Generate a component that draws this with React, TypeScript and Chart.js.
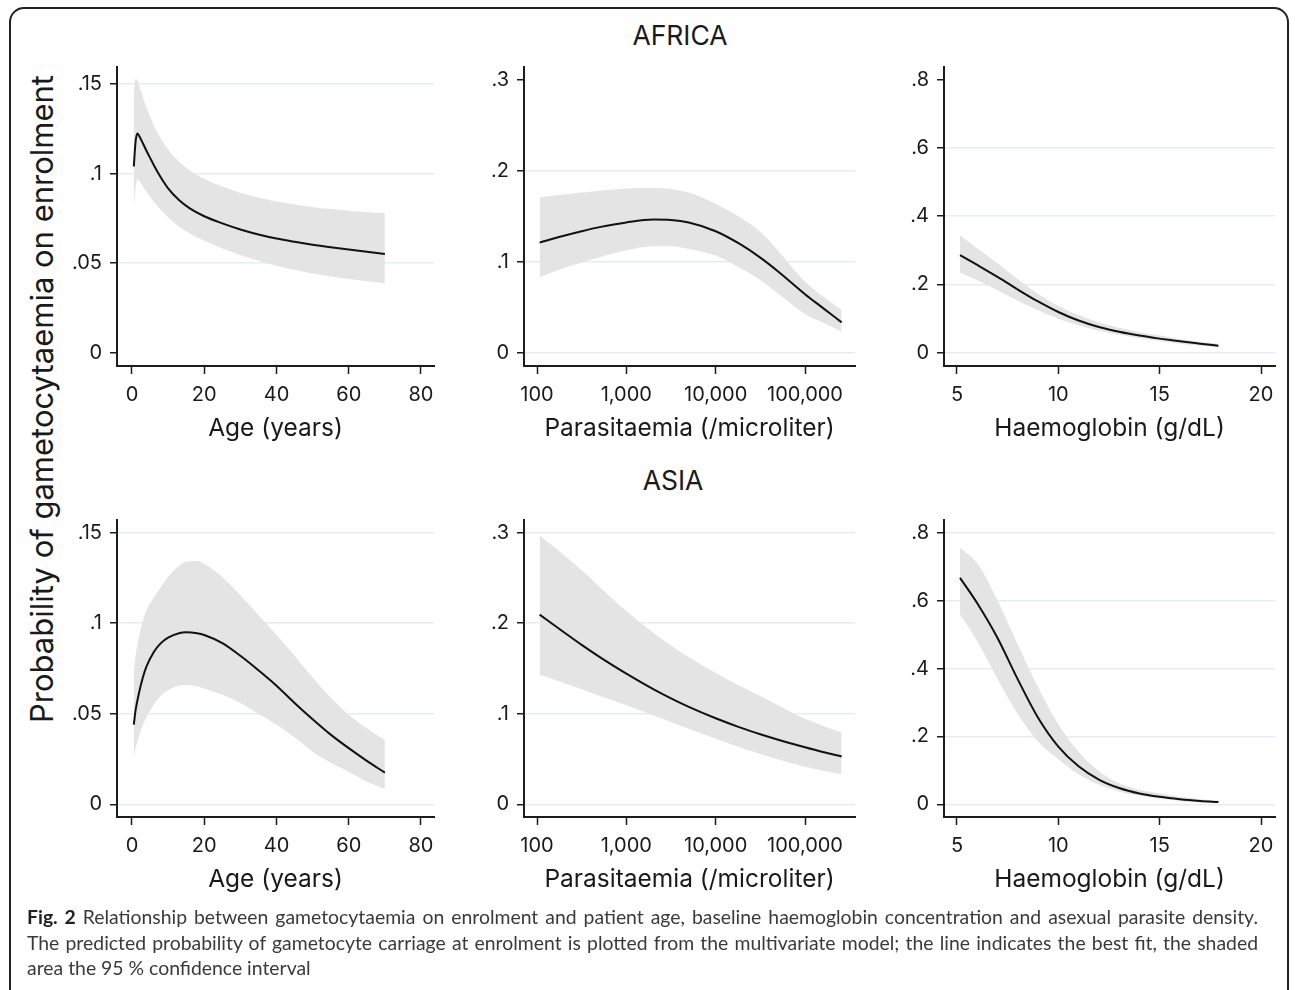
import React, { useEffect, useRef } from 'react';
import { Chart, registerables } from 'chart.js';

Chart.register(...registerables);

// ---------- data ----------
const ageTicks = [0, 20, 40, 60, 80];
const parTicks = [100, 1000, 10000, 100000];
const hbTicks = [5, 10, 15, 20];
const yTicksAge = [0, 0.05, 0.1, 0.15];
const yTicksPar = [0, 0.1, 0.2, 0.3];
const yTicksHb = [0, 0.2, 0.4, 0.6, 0.8];

// Africa – age
const afAgeX = [0.5, 1, 1.5, 2, 3, 4, 5, 7, 10, 13, 16, 20, 25, 30, 35, 40, 45, 50, 55, 60, 65, 70];
const afAgeFit = [0.104, 0.118, 0.1225, 0.121, 0.117, 0.1128, 0.1088, 0.1012, 0.0918, 0.0853, 0.0806, 0.0762, 0.0722, 0.0688, 0.066, 0.0637, 0.0619, 0.0603, 0.0589, 0.0576, 0.0563, 0.0551];
const afAgeLo = [0.081, 0.092, 0.097, 0.096, 0.093, 0.09, 0.087, 0.082, 0.0755, 0.0705, 0.0665, 0.0625, 0.0582, 0.0546, 0.0513, 0.0485, 0.0462, 0.0442, 0.0425, 0.0411, 0.0399, 0.0388];
const afAgeHi = [0.146, 0.153, 0.152, 0.149, 0.143, 0.137, 0.132, 0.123, 0.1135, 0.1068, 0.1018, 0.0972, 0.0928, 0.0893, 0.0866, 0.0845, 0.0828, 0.0814, 0.0802, 0.0793, 0.0785, 0.0778];

// Africa – parasitaemia
const afParX = [107, 200, 316, 500, 1000, 2000, 3160, 5000, 10000, 18600, 31600, 50000, 100000, 158000, 257000];
const afParFit = [0.121, 0.1285, 0.1335, 0.138, 0.1432, 0.1463, 0.1458, 0.143, 0.1335, 0.1195, 0.1045, 0.0893, 0.0643, 0.0492, 0.0333];
const afParLo = [0.083, 0.093, 0.099, 0.105, 0.1125, 0.117, 0.117, 0.114, 0.1067, 0.093, 0.08, 0.065, 0.0425, 0.033, 0.023];
const afParHi = [0.171, 0.174, 0.176, 0.178, 0.1805, 0.181, 0.18, 0.176, 0.1635, 0.149, 0.133, 0.112, 0.078, 0.062, 0.047];

// Africa – haemoglobin
const afHbX = [5.15, 6, 7, 8, 9, 10, 11, 12, 13, 14, 15, 16, 17, 17.9];
const afHbFit = [0.286, 0.257, 0.222, 0.185, 0.15, 0.119, 0.094, 0.075, 0.061, 0.05, 0.041, 0.033, 0.026, 0.02];
const afHbLo = [0.235, 0.212, 0.183, 0.152, 0.124, 0.099, 0.08, 0.064, 0.052, 0.042, 0.034, 0.026, 0.02, 0.015];
const afHbHi = [0.344, 0.305, 0.262, 0.215, 0.172, 0.137, 0.11, 0.089, 0.073, 0.06, 0.05, 0.04, 0.032, 0.026];

// Asia – age
const asAgeX = [0.5, 1, 2, 3, 4, 6, 8, 10, 13, 15, 18, 20, 25, 30, 35, 40, 45, 50, 55, 60, 65, 70];
const asAgeFit = [0.044, 0.052, 0.062, 0.07, 0.076, 0.084, 0.089, 0.092, 0.0945, 0.095, 0.0945, 0.0935, 0.089, 0.082, 0.074, 0.0655, 0.056, 0.047, 0.0385, 0.031, 0.024, 0.0175];
const asAgeLo = [0.026, 0.031, 0.038, 0.044, 0.048, 0.055, 0.06, 0.063, 0.0655, 0.066, 0.065, 0.064, 0.0605, 0.056, 0.05, 0.044, 0.037, 0.029, 0.023, 0.018, 0.0125, 0.0085];
const asAgeHi = [0.073, 0.082, 0.093, 0.101, 0.107, 0.114, 0.12, 0.1255, 0.1318, 0.134, 0.1343, 0.1328, 0.1255, 0.1155, 0.1045, 0.0935, 0.082, 0.07, 0.059, 0.0495, 0.042, 0.0355];

// Asia – parasitaemia
const asParX = [107, 200, 316, 500, 1000, 2000, 3160, 5000, 10000, 18600, 31600, 50000, 100000, 158000, 257000];
const asParFit = [0.2095, 0.1901, 0.1761, 0.1629, 0.1443, 0.1272, 0.117, 0.1076, 0.095, 0.085, 0.0774, 0.0714, 0.063, 0.0578, 0.0528];
const asParLo = [0.143, 0.134, 0.127, 0.12, 0.1095, 0.0985, 0.091, 0.0835, 0.0725, 0.063, 0.0555, 0.0495, 0.0415, 0.037, 0.033];
const asParHi = [0.297, 0.2754, 0.2584, 0.2404, 0.2134, 0.1894, 0.1754, 0.1624, 0.145, 0.131, 0.1195, 0.1095, 0.0945, 0.0869, 0.0795];

// Asia – haemoglobin
const asHbX = [5.15, 6, 7, 8, 9, 10, 11, 12, 13, 14, 15, 16, 17, 17.9];
const asHbFit = [0.667, 0.592, 0.49, 0.368, 0.255, 0.17, 0.112, 0.073, 0.048, 0.032, 0.022, 0.015, 0.01, 0.0066];
const asHbLo = [0.559, 0.48, 0.37, 0.265, 0.185, 0.133, 0.088, 0.058, 0.038, 0.025, 0.016, 0.01, 0.005, 0.003];
const asHbHi = [0.756, 0.71, 0.6, 0.47, 0.345, 0.236, 0.155, 0.098, 0.062, 0.043, 0.032, 0.022, 0.015, 0.011];

// ---------- styles ----------
const FONT = 'Inter';
const AXIS = '#1c1c1c';
const TEXT = '#1a1a1a';
const GRID = '#e4eef1';
const BAND = '#e4e4e4';
const LINE = '#111111';

type PanelDef = {
  L: number; R: number; T: number; B: number;
  xType: 'linear' | 'logarithmic';
  xMin: number; xMax: number; xTicks: number[]; xTitle: string;
  yMin: number; yMax: number; yTicks: number[]; yGrid: number[];
  xs: number[]; fit: number[]; lo: number[]; hi: number[];
};

const TOP_T = 53, TOP_B = 366, BOT_T = 506, BOT_B = 817;

const panels: PanelDef[] = [
  { L: 117, R: 434, T: TOP_T, B: TOP_B, xType: 'linear', xMin: -4.15, xMax: 83.6, xTicks: ageTicks, xTitle: 'Age (years)',
    yMin: -0.0075, yMax: 0.1596, yTicks: yTicksAge, yGrid: [0.05, 0.1, 0.15], xs: afAgeX, fit: afAgeFit, lo: afAgeLo, hi: afAgeHi },
  { L: 524, R: 855, T: TOP_T, B: TOP_B, xType: 'logarithmic', xMin: 71.5, xMax: 362800, xTicks: parTicks, xTitle: 'Parasitaemia (/microliter)',
    yMin: -0.0147, yMax: 0.3141, yTicks: yTicksPar, yGrid: [0, 0.1, 0.2], xs: afParX, fit: afParFit, lo: afParLo, hi: afParHi },
  { L: 944, R: 1275, T: TOP_T, B: TOP_B, xType: 'linear', xMin: 4.36, xMax: 20.69, xTicks: hbTicks, xTitle: 'Haemoglobin (g/dL)',
    yMin: -0.0393, yMax: 0.8376, yTicks: yTicksHb, yGrid: [0, 0.2, 0.4, 0.6], xs: afHbX, fit: afHbFit, lo: afHbLo, hi: afHbHi },
  { L: 117, R: 434, T: BOT_T, B: BOT_B, xType: 'linear', xMin: -4.15, xMax: 83.6, xTicks: ageTicks, xTitle: 'Age (years)',
    yMin: -0.007, yMax: 0.157, yTicks: yTicksAge, yGrid: [0, 0.05, 0.1, 0.15], xs: asAgeX, fit: asAgeFit, lo: asAgeLo, hi: asAgeHi },
  { L: 524, R: 855, T: BOT_T, B: BOT_B, xType: 'logarithmic', xMin: 71.5, xMax: 362800, xTicks: parTicks, xTitle: 'Parasitaemia (/microliter)',
    yMin: -0.014, yMax: 0.314, yTicks: yTicksPar, yGrid: [0, 0.1, 0.2, 0.3], xs: asParX, fit: asParFit, lo: asParLo, hi: asParHi },
  { L: 944, R: 1275, T: BOT_T, B: BOT_B, xType: 'linear', xMin: 4.36, xMax: 20.69, xTicks: hbTicks, xTitle: 'Haemoglobin (g/dL)',
    yMin: -0.0374, yMax: 0.8374, yTicks: yTicksHb, yGrid: [0, 0.2, 0.4, 0.6, 0.8], xs: asHbX, fit: asHbFit, lo: asHbLo, hi: asHbHi },
];

const YW = 80;
const XH = 90;
const PT = 6;
const PR = 10;

function fmtY(v: number) {
  if (v === 0) return '0';
  return String(v).replace(/^0/, '');
}

function PanelChart({ p }: { p: PanelDef }) {
  const ref = useRef<HTMLCanvasElement>(null);
  const left = p.L - YW;
  const top = p.T - PT;
  const width = p.R + PR - left;
  const height = p.B + XH - top;

  useEffect(() => {
    if (!ref.current) return;
    const pts = (ys: number[]) => p.xs.map((x, i) => ({ x, y: ys[i] }));
    const chart = new Chart(ref.current, {
      type: 'line',
      data: {
        datasets: [
          { data: pts(p.fit), borderWidth: 2, borderColor: LINE, pointRadius: 0, fill: false, cubicInterpolationMode: 'monotone', order: 0 },
          { data: pts(p.hi), borderWidth: 0, borderColor: 'rgba(0,0,0,0)', backgroundColor: BAND, pointRadius: 0, fill: '+1', cubicInterpolationMode: 'monotone', order: 1 },
          { data: pts(p.lo), borderWidth: 0, borderColor: 'rgba(0,0,0,0)', backgroundColor: BAND, pointRadius: 0, fill: false, cubicInterpolationMode: 'monotone', order: 2 },
        ],
      },
      options: {
        animation: false,
        responsive: false,
        events: [],
        layout: { padding: { top: PT, right: PR, left: 0, bottom: 0 } },
        plugins: { legend: { display: false }, tooltip: { enabled: false }, title: { display: false } },
        scales: {
          x: {
            type: p.xType,
            min: p.xMin,
            max: p.xMax,
            afterBuildTicks: (s: any) => { s.ticks = p.xTicks.map((v) => ({ value: v })); },
            afterFit: (s: any) => { s.height = XH; },
            ticks: {
              autoSkip: false, maxRotation: 0, padding: 9, color: TEXT,
              font: { family: FONT, size: 20 },
              callback: (v: any) => Number(v).toLocaleString('en-US'),
            },
            grid: { drawOnChartArea: false, drawTicks: true, tickLength: 8, tickColor: AXIS, tickWidth: 1.5 },
            border: { display: true, color: AXIS, width: 2 },
            title: { display: true, text: p.xTitle, color: TEXT, font: { family: FONT, size: 24.5 }, padding: { top: 0, bottom: 13 } },
          } as any,
          y: {
            type: 'linear',
            min: p.yMin,
            max: p.yMax,
            afterBuildTicks: (s: any) => { s.ticks = p.yTicks.map((v) => ({ value: v })); },
            afterFit: (s: any) => { s.width = YW; },
            ticks: { padding: 8, color: TEXT, font: { family: FONT, size: 20 }, callback: (v: any) => fmtY(Number(v)) },
            grid: {
              color: (c: any) => (c.tick && p.yGrid.includes(c.tick.value) ? GRID : 'rgba(0,0,0,0)'),
              lineWidth: 1.5, drawTicks: true, tickLength: 7, tickColor: AXIS, tickWidth: 1.5,
            },
            border: { display: true, color: AXIS, width: 2 },
          } as any,
        },
      },
    });
    return () => chart.destroy();
  }, []);

  return (
    <canvas
      ref={ref}
      width={width}
      height={height}
      style={{ position: 'absolute', left, top, width, height }}
    />
  );
}

const captionLine1 = 'Relationship between gametocytaemia on enrolment and patient age, baseline haemoglobin concentration and asexual parasite density.';
const captionLine2 = 'The predicted probability of gametocyte carriage at enrolment is plotted from the multivariate model; the line indicates the best fit, the shaded';
const captionLine3 = 'area the 95 % confidence interval';

export default function App() {
  const center: React.CSSProperties = {
    position: 'absolute', transform: 'translate(-50%, -50%)', whiteSpace: 'nowrap',
    fontFamily: FONT, color: TEXT, lineHeight: 1,
  };
  return (
    <div style={{ position: 'absolute', left: 0, top: 0, width: 1295, height: 990, overflow: 'hidden', background: '#fff' }}>
      <div style={{ position: 'absolute', left: 9, top: 7, width: 1276, height: 1010, border: '2px solid #222', borderRadius: 15 }} />
      <div style={{ ...center, left: 680, top: 35, fontSize: 26.5 }}>AFRICA</div>
      <div style={{ ...center, left: 673, top: 480, fontSize: 26.5 }}>ASIA</div>
      <div style={{ ...center, left: 41, top: 399, fontSize: 31, transform: 'translate(-50%, -50%) rotate(-90deg)' }}>
        Probability of gametocytaemia on enrolment
      </div>
      {panels.map((p, i) => (
        <PanelChart key={i} p={p} />
      ))}
      <div style={{ position: 'absolute', left: 27, top: 904, width: 1231, fontFamily: 'Lato', fontSize: 19.4, lineHeight: '25.5px', color: '#3a3a3a' }}>
        <div style={{ textAlign: 'justify', textAlignLast: 'justify' }}>
          <b style={{ color: '#222' }}>Fig. 2</b> {captionLine1}
        </div>
        <div style={{ textAlign: 'justify', textAlignLast: 'justify' }}>{captionLine2}</div>
        <div>{captionLine3}</div>
      </div>
    </div>
  );
}
